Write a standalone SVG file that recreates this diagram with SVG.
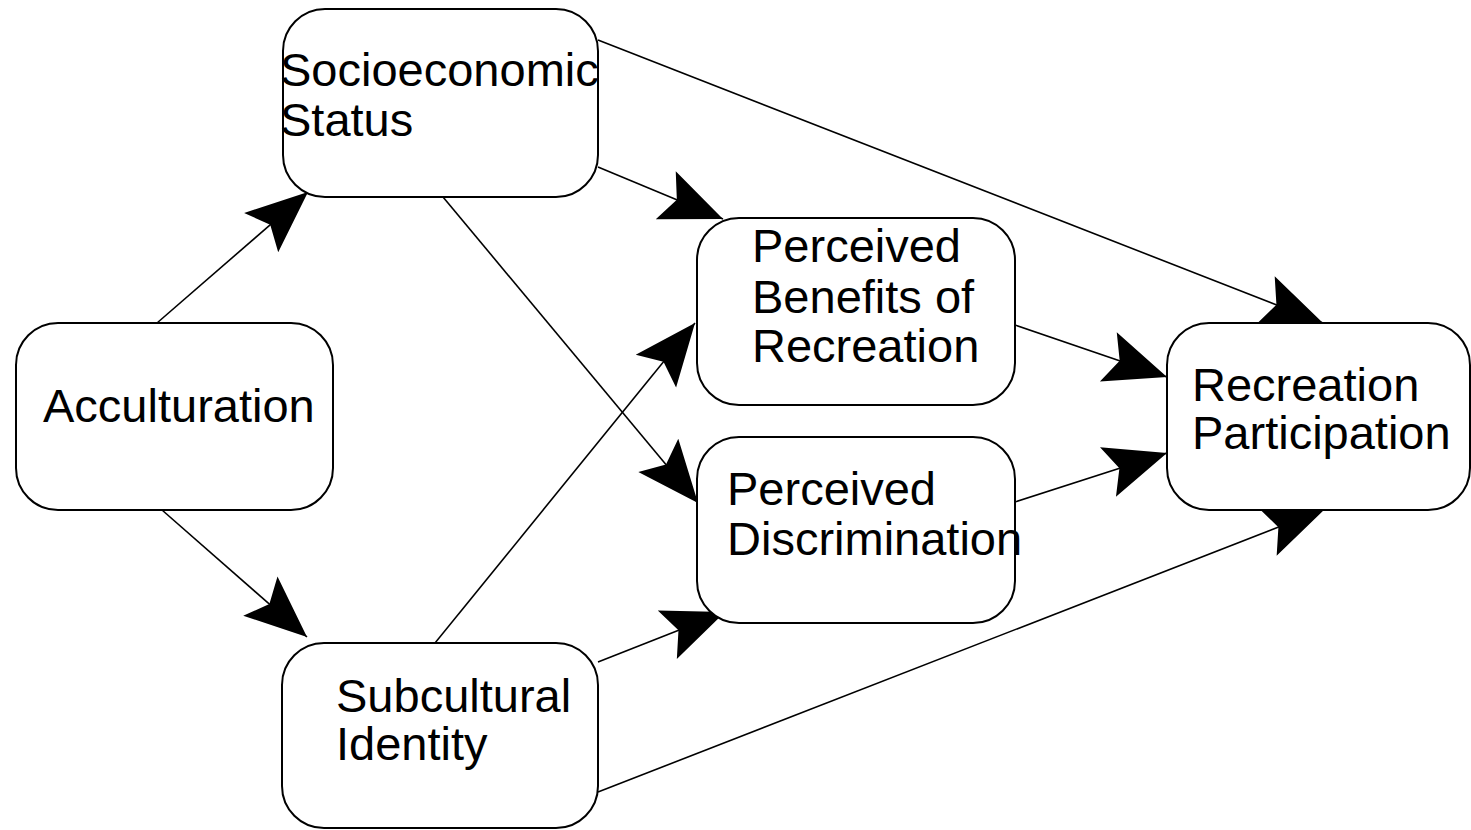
<svg xmlns="http://www.w3.org/2000/svg" width="1471" height="830" viewBox="0 0 1471 830">
<style>
.box{fill:#fff;stroke:#000;stroke-width:2}
.lbl{font-family:"Liberation Sans",Arial,sans-serif;font-size:47px;fill:#000}
.edge{stroke:#000;stroke-width:1.6;fill:none;marker-end:url(#ah)}
</style>
<defs>
<marker id="ah" markerUnits="userSpaceOnUse" viewBox="-64 -28 66 56" refX="0" refY="0" markerWidth="66" markerHeight="56" orient="auto">
<path d="M0,0 L-62,-26 L-50,0 L-62,26 Z" fill="#000"/>
</marker>
</defs>
<rect width="1471" height="830" fill="#fff"/>
<g id="connectors">
<line class="edge" x1="157" y1="323" x2="308" y2="192"/>
<line class="edge" x1="162" y1="510" x2="307" y2="637"/>
<line class="edge" x1="598" y1="167" x2="723" y2="219"/>
<line class="edge" x1="443" y1="197" x2="698" y2="503"/>
<line class="edge" x1="598" y1="40" x2="1323" y2="323"/>
<line class="edge" x1="435" y1="643" x2="695" y2="323"/>
<line class="edge" x1="598" y1="662" x2="725" y2="612"/>
<line class="edge" x1="598" y1="792" x2="1325" y2="509"/>
<line class="edge" x1="1015" y1="325" x2="1167" y2="377"/>
<line class="edge" x1="1015" y1="502" x2="1167" y2="453"/>
</g>
<g id="socioeconomic">
<rect class="box" x="283" y="9" width="315" height="188" rx="42"/>
<text class="lbl" x="280" y="86">Socioeconomic</text>
<text class="lbl" x="280" y="136">Status</text>
</g>
<g id="acculturation">
<rect class="box" x="16" y="323" width="317" height="187" rx="42"/>
<text class="lbl" x="43" y="422">Acculturation</text>
</g>
<g id="benefits">
<rect class="box" x="697" y="218" width="318" height="187" rx="42"/>
<text class="lbl" x="752" y="262">Perceived</text>
<text class="lbl" x="752" y="313">Benefits of</text>
<text class="lbl" x="752" y="362">Recreation</text>
</g>
<g id="discrimination">
<rect class="box" x="697" y="437" width="318" height="186" rx="42"/>
<text class="lbl" x="727" y="505">Perceived</text>
<text class="lbl" x="727" y="555">Discrimination</text>
</g>
<g id="subcultural">
<rect class="box" x="282" y="643" width="316" height="185" rx="42"/>
<text class="lbl" x="336" y="712">Subcultural</text>
<text class="lbl" x="336" y="760">Identity</text>
</g>
<g id="participation">
<rect class="box" x="1167" y="323" width="303" height="187" rx="42"/>
<text class="lbl" x="1192" y="401">Recreation</text>
<text class="lbl" x="1192" y="449">Participation</text>
</g>
</svg>
